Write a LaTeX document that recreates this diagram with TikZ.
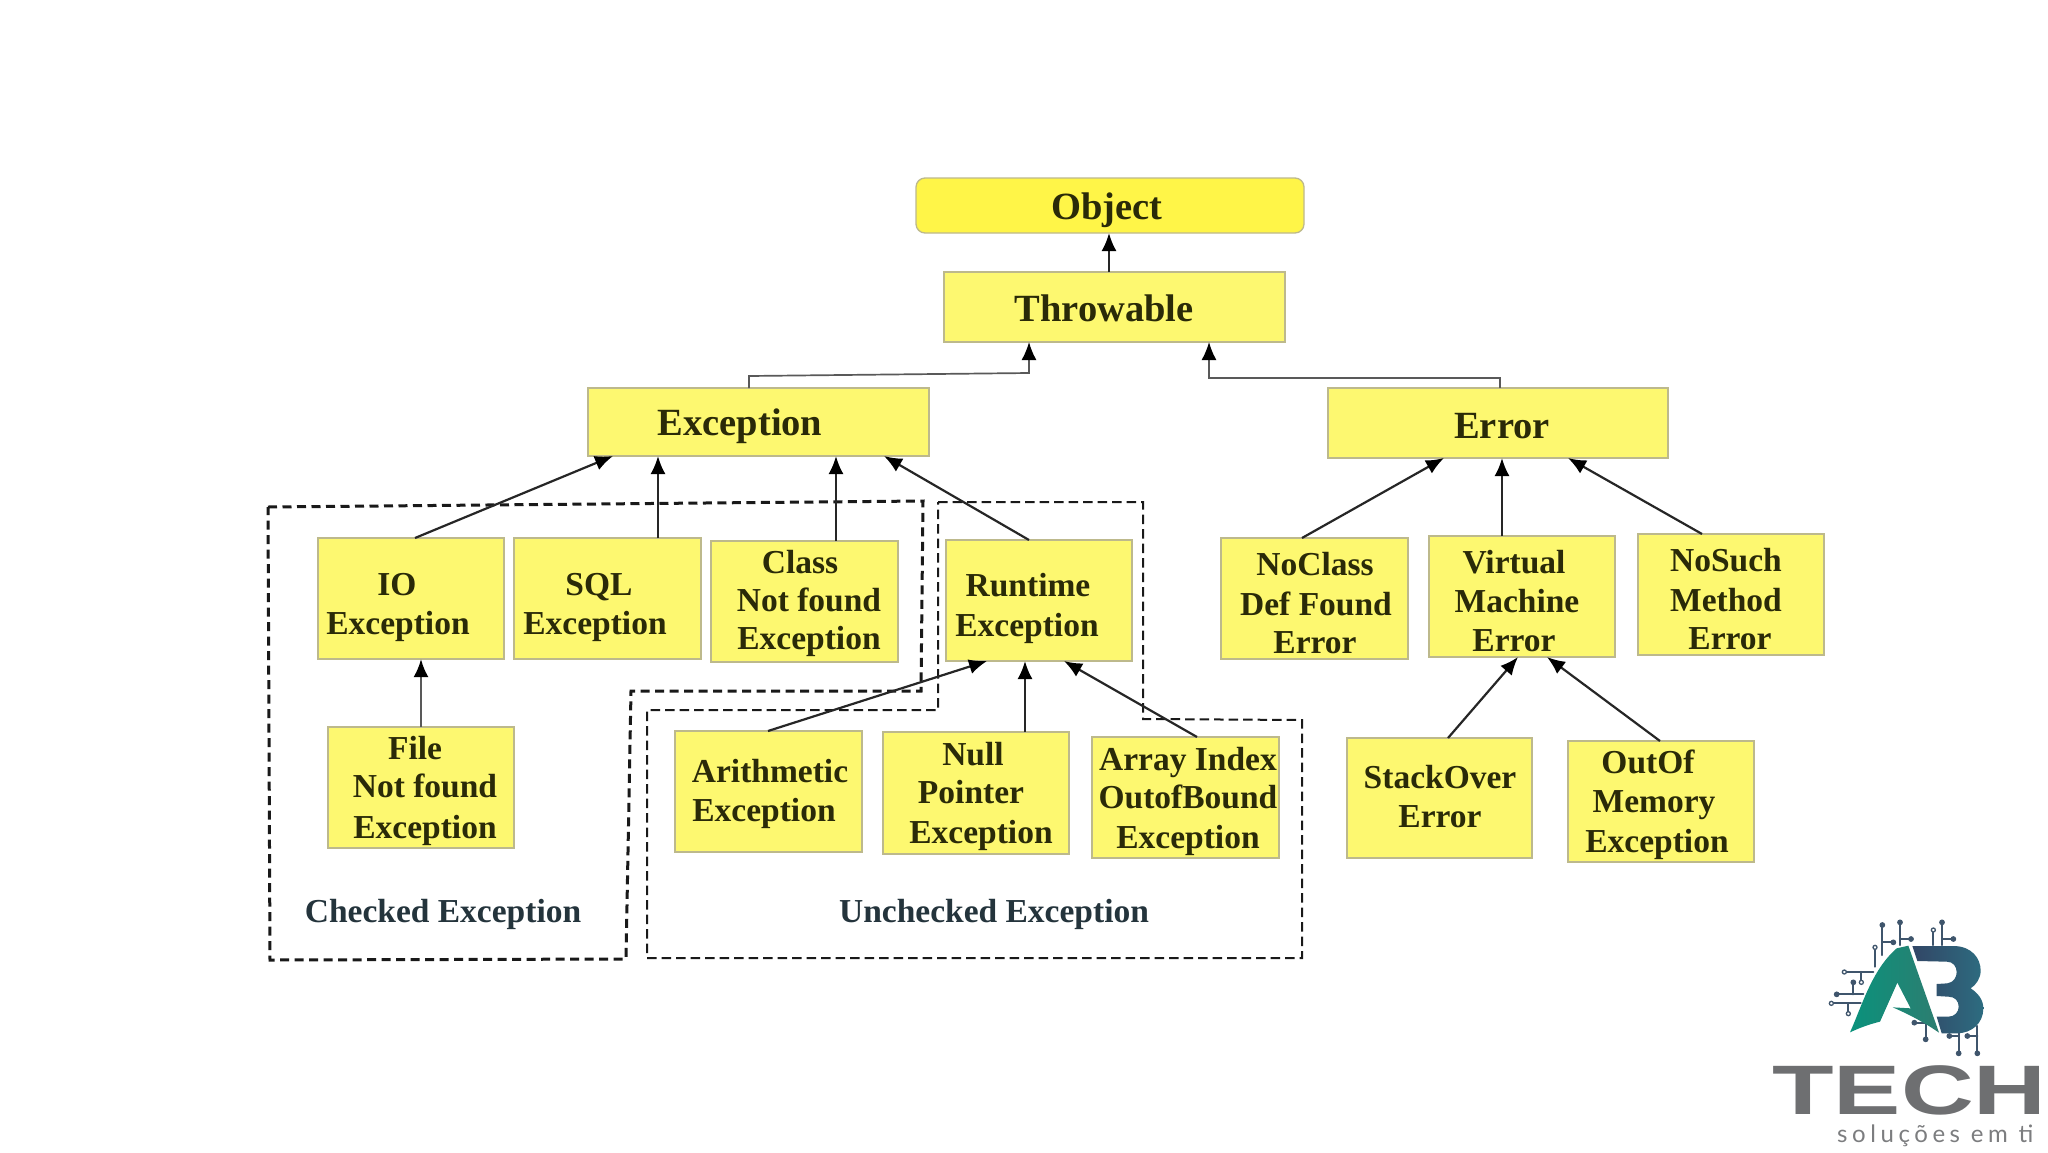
\documentclass[tikz,border=0pt]{standalone}
\usepackage{fontspec}
\usepackage{graphicx}
\setmainfont{Liberation Serif}
\newfontfamily\logofont{Liberation Sans}
\newfontfamily\subfont[LetterSpace=19]{Lato}
\usetikzlibrary{arrows.meta}
\definecolor{boxyellow}{HTML}{FDF870}
\definecolor{objyellow}{HTML}{FFF548}
\definecolor{boxedge}{HTML}{BDB98C}
\definecolor{inkdark}{HTML}{2A2A08}
\definecolor{inknavy}{HTML}{24343C}
\definecolor{trace}{HTML}{3F556C}
\definecolor{techgrey}{HTML}{6E6F71}
\tikzset{
  boxst/.style={draw=boxedge,line width=1.3pt,fill=boxyellow,inner sep=0pt,outer sep=0pt,text=inkdark,font=\fontsize{33.5}{33.5}\selectfont\bfseries},
  bigtxt/.style={font=\fontsize{38.5}{38.5}\selectfont\bfseries},
  objst/.style={fill=objyellow,rounded corners=9pt},
  conn/.style={line width=2.2pt,draw=black!85,-{Latex[length=18pt,width=15pt,color=black]}},
  elbow/.style={line width=1.7pt,draw=black!65,-{Latex[length=18pt,width=15pt,color=black]}},
  checkedline/.style={line width=3pt,dash pattern=on 9pt off 5.5pt,draw=black!90},
  uncheckedline/.style={line width=2pt,dash pattern=on 9.5pt off 5pt,draw=black!90},
  regionlabel/.style={inner sep=0pt,text=inknavy,font=\fontsize{33.5}{33.5}\selectfont\bfseries},
  tr/.style={line width=2.2pt,draw=trace,line cap=round},
  dotf/.style={fill=trace,draw=trace,line width=1pt},
  doto/.style={fill=white,draw=trace,line width=1.3pt},
}
\newcommand\tl[3]{\pgfmathsetmacro\dx{#1-\bcx}\pgfmathsetmacro\dy{#2-\bcy}\rlap{\hspace{\dx pt}\raisebox{-\dy pt}[0pt][0pt]{\makebox[0pt][c]{#3}}}}
\newcommand\bx[7][]{%
  \pgfmathsetmacro\bcx{(#3+#5)/2}\pgfmathsetmacro\bcy{(#4+#6)/2}%
  \pgfmathsetmacro\bw{#5-#3}\pgfmathsetmacro\bh{#6-#4}%
  \node[boxst,#1,minimum width=\bw pt,minimum height=\bh pt] (#2) at (\bcx,\bcy) {#7};}
\begin{document}
\begin{tikzpicture}[x=1pt,y=-1pt]
\useasboundingbox (0,0) rectangle (2048,1152);
\fill[white] (0,0) rectangle (2048,1152);
% dashed regions
\draw[checkedline] (268,507) -- (923,501) -- (921,691) -- (631,691) -- (626,959) -- (270,960) -- cycle;
\draw[uncheckedline] (938,502) -- (1143,502) -- (1143,719) -- (1302,720) -- (1302,958) -- (647,958) -- (647,710) -- (938,710) -- cycle;
% boxes
\bx[objst,bigtxt]{obj}{916}{178}{1304}{233}{\tl{1107}{219}{Object}}
\bx[bigtxt]{thr}{944}{272}{1285}{342}{\tl{1104}{321}{Throwable}}
\bx[bigtxt]{exc}{588}{388}{929}{456}{\tl{740}{435}{Exception}}
\bx[bigtxt]{err}{1328}{388}{1668}{458}{\tl{1502}{438}{Error}}
\bx{io}{318}{538}{504}{659}{\tl{397}{595}{IO}\tl{398}{634}{Exception}}
\bx{sql}{514}{538}{701}{659}{\tl{599}{595}{SQL}\tl{595}{634}{Exception}}
\bx{cnf}{711}{541}{898}{662}{\tl{800}{573}{Class}\tl{809}{611}{Not found}\tl{809}{649}{Exception}}
\bx{fnf}{328}{727}{514}{848}{\tl{415}{759}{File}\tl{425}{797}{Not found}\tl{425}{838}{Exception}}
\bx{ari}{675}{731}{862}{852}{\tl{770}{782}{Arithmetic}\tl{764}{821}{Exception}}
\bx{nul}{883}{732}{1069}{854}{\tl{973}{765}{Null}\tl{971}{803}{Pointer}\tl{981}{843}{Exception}}
\bx{run}{946}{540}{1132}{661}{\tl{1028}{596}{Runtime}\tl{1027}{636}{Exception}}
\bx{arr}{1092}{737}{1279}{858}{\tl{1188}{770}{Array Index}\tl{1188}{808}{OutofBound}\tl{1188}{848}{Exception}}
\bx{ncd}{1221}{538}{1408}{659}{\tl{1315}{575}{NoClass}\tl{1316}{615}{Def Found}\tl{1315}{653}{Error}}
\bx{vme}{1429}{536}{1615}{657}{\tl{1514}{573}{Virtual}\tl{1517}{612}{Machine}\tl{1514}{651}{Error}}
\bx{nsm}{1638}{534}{1824}{655}{\tl{1726}{571}{NoSuch}\tl{1726}{611}{Method}\tl{1730}{649}{Error}}
\bx{sof}{1347}{738}{1532}{858}{\tl{1440}{788}{StackOver}\tl{1440}{827}{Error}}
\bx{oom}{1568}{741}{1754}{862}{\tl{1648}{773}{OutOf}\tl{1654}{812}{Memory}\tl{1657}{852}{Exception}}
% region labels
\node[regionlabel,anchor=base] (chk) at (443,922) {Checked Exception};
\node[regionlabel,anchor=base] (unc) at (994,922) {Unchecked Exception};
% connectors
\draw[conn] (1109,0 |- thr.north) -- (1109,0 |- obj.south);
\draw[elbow] (749,0 |- exc.north) -- (749,376) -- (1029,373) -- (1029,0 |- thr.south);
\draw[elbow] (1500,0 |- err.north) -- (1500,378) -- (1209,378) -- (1209,0 |- thr.south);
\draw[conn] (415,0 |- io.north) -- (613,0 |- exc.south);
\draw[conn] (658,0 |- sql.north) -- (658,0 |- exc.south);
\draw[conn] (836,0 |- cnf.north) -- (836,0 |- exc.south);
\draw[conn] (1029,0 |- run.north) -- (884,0 |- exc.south);
\draw[conn,draw=black!65,line width=2.6pt] (421,0 |- fnf.north) -- (421,0 |- io.south);
\draw[conn] (768,0 |- ari.north) -- (987,0 |- run.south);
\draw[conn] (1025,0 |- nul.north) -- (1025,0 |- run.south);
\draw[conn] (1197,0 |- arr.north) -- (1064,0 |- run.south);
\draw[conn] (1302,0 |- ncd.north) -- (1444,0 |- err.south);
\draw[conn] (1502,0 |- vme.north) -- (1502,0 |- err.south);
\draw[conn] (1702,0 |- nsm.north) -- (1568,0 |- err.south);
\draw[conn] (1448,0 |- sof.north) -- (1518,0 |- vme.south);
\draw[conn] (1660,0 |- oom.north) -- (1547,0 |- vme.south);
% logo
\begin{scope}[shift={(1740,900)}]
\begin{scope}[x=0.33333pt,y=-0.33333pt]
 \draw[tr] (427,75) -- (427,165) (427,127) -- (460,127);
 \draw[tr] (480,67) -- (480,135) (480,117) -- (513,117);
 \draw[tr] (580,90) -- (580,135);
 \draw[tr] (606,67) -- (606,135) (606,117) -- (640,117);
 \draw[tr] (405,142) -- (405,200);
 \draw[tr] (313,216) -- (400,216) (364,216) -- (364,247);
 \draw[tr] (290,283) -- (370,283) (340,247) -- (340,283);
 \draw[tr] (274,310) -- (362,310) (325,310) -- (325,341);
 \draw[tr] (523,368) -- (570,368) (557,368) -- (557,418);
 \draw[tr] (656,400) -- (656,460) (628,408) -- (656,408);
 \draw[tr] (712,378) -- (712,460) (682,408) -- (712,408);
 \foreach \p in {(427,75),(460,127),(480,67),(513,117),(606,67),(640,117),(290,283),(340,247),(523,368),(557,418),(656,460),(628,408),(712,460),(682,408)}
   \fill[dotf] \p circle (7);
 \foreach \p in {(580,90),(405,142),(313,216),(364,247),(274,310),(325,341)}
   \filldraw[doto] \p circle (6);
 \path[left color={rgb,255:red,10;green,146;blue,124},right color={rgb,255:red,45;green,125;blue,112}]
   (330,397) .. controls (365,320) and (395,210) .. (470,145) -- (505,137) -- (597,398)
   .. controls (550,365) and (500,340) .. (458,322) -- (512,325) -- (472,248) -- (420,365)
   .. controls (390,372) and (360,383) .. (330,397) -- cycle;
 \path[left color={rgb,255:red,50;green,70;blue,102},right color={rgb,255:red,45;green,108;blue,128}]
   (517,138) -- (640,138) .. controls (695,138) and (722,175) .. (722,212)
   .. controls (722,235) and (708,255) .. (692,265) .. controls (715,280) and (730,300) .. (730,325)
   .. controls (730,370) and (695,400) .. (650,400) -- (605,400) -- (590,350) -- (625,350)
   .. controls (645,350) and (656,335) .. (656,320) .. controls (656,303) and (645,290) .. (625,290)
   -- (590,288) -- (590,252) -- (622,250) .. controls (640,248) and (650,232) .. (650,217)
   .. controls (650,200) and (640,185) .. (620,185) -- (532,183) -- cycle;
\end{scope}
\end{scope}
\node[anchor=base west,inner sep=0pt,text=techgrey,font=\logofont\fontsize{70}{70}\selectfont\bfseries] (tech) at (1772,1114) {\scalebox{1.44}[1]{TECH}};
\node[anchor=base west,inner sep=0pt,text=techgrey!90,font=\subfont\fontsize{24}{24}\selectfont] (sub) at (1837,1142) {soluções em ti};
\end{tikzpicture}
\end{document}
